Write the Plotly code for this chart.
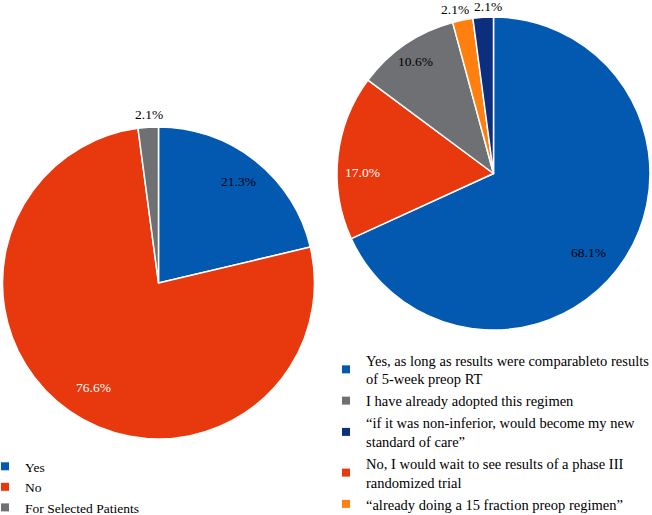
import math
import plotly.graph_objects as go

# ---- data ----
left_labels = ["Yes", "No", "For Selected Patients"]
left_values = [21.3, 76.6, 2.1]

right_labels = [
    "Yes, as long as results were comparableto results<br>of 5-week preop RT",
    "No, I would wait to see results of a phase III<br>randomized trial",
    "I have already adopted this regimen",
    "“already doing a 15 fraction preop regimen”",
    "“if it was non-inferior, would become my new<br>standard of care”",
]
right_values = [68.1, 17.0, 10.6, 2.1, 2.1]
right_legend_order = [0, 2, 4, 1, 3]

# ---- style / layout params ----
W, H = 652, 515
FONT = "Liberation Serif"
left_colors = ["#0358B0", "#E8380E", "#6E7073"]
right_colors = ["#0358B0", "#E8380E", "#6E7073", "#FF7F0F", "#0B2E7E"]
left_dom = dict(x=[2.5 / W, 314.5 / W], y=[1 - 439 / H, 1 - 127 / H])
right_dom = dict(x=[337 / W, 650 / W], y=[1 - 330 / H, 1 - 17 / H])
left_lab_r = [0.83, 0.786, 1.085]
left_lab_da = [0, -2.6, 0.6]
left_lab_col = ["black", "white", "black"]
right_lab_r = [0.79, 0.84, 0.87, 1.075, 1.065]
right_lab_da = [6.8, -5.6, -0.5, -1.9, 1.9]
right_lab_col = ["black", "white", "black", "black", "black"]

fig = go.Figure()

for vals, cols, dom in [(left_values, left_colors, left_dom), (right_values, right_colors, right_dom)]:
    fig.add_trace(go.Pie(
        values=vals, marker=dict(colors=cols, line=dict(color="white", width=1.5)),
        sort=False, direction="clockwise", rotation=0, textinfo="none",
        hoverinfo="skip", showlegend=False, domain=dom,
    ))


def add_labels(vals, dom, rfrac, dang, colors):
    cx = (dom["x"][0] + dom["x"][1]) / 2 * W
    cy = (1 - (dom["y"][0] + dom["y"][1]) / 2) * H
    r = min((dom["x"][1] - dom["x"][0]) * W, (dom["y"][1] - dom["y"][0]) * H) / 2
    tot = sum(vals)
    cum = 0
    for v, rf, da, c in zip(vals, rfrac, dang, colors):
        mid = (cum + v / 2) / tot * 2 * math.pi + math.radians(da)
        cum += v
        px = cx + rf * r * math.sin(mid)
        py = cy - rf * r * math.cos(mid)
        fig.add_annotation(x=px / W, y=1 - py / H, xref="paper", yref="paper",
                           xanchor="center", yanchor="middle",
                           text=f"{v:.1f}%", showarrow=False,
                           font=dict(family=FONT, size=13.5, color=c))


add_labels(left_values, left_dom, left_lab_r, left_lab_da, left_lab_col)
add_labels(right_values, right_dom, right_lab_r, right_lab_da, right_lab_col)

# legends via marker-only traces
for lab, col in zip(left_labels, left_colors):
    fig.add_trace(go.Scatter(x=[None], y=[None], mode="markers", name=lab,
                             marker=dict(symbol="square", size=8, color=col),
                             legend="legend"))
for i in right_legend_order:
    fig.add_trace(go.Scatter(x=[None], y=[None], mode="markers", name=right_labels[i],
                             marker=dict(symbol="square", size=8, color=right_colors[i]),
                             legend="legend2"))

fig.update_layout(
    width=W, height=H, margin=dict(l=0, r=0, t=0, b=0, autoexpand=False),
    paper_bgcolor="white", plot_bgcolor="white",
    xaxis=dict(visible=False), yaxis=dict(visible=False),
    font=dict(family=FONT, size=14, color="black"),
    legend=dict(x=-15 / W, y=1 - 451 / H, xanchor="left", yanchor="top",
                bgcolor="rgba(0,0,0,0)", font=dict(family=FONT, size=13.5)),
    legend2=dict(x=326 / W, y=1 - 344 / H, xanchor="left", yanchor="top",
                 bgcolor="rgba(0,0,0,0)", font=dict(family=FONT, size=14.5)),
)

fig.write_html("out.html", config={"displayModeBar": False},
               post_script="document.body.style.margin='0';document.body.style.overflow='hidden';")
